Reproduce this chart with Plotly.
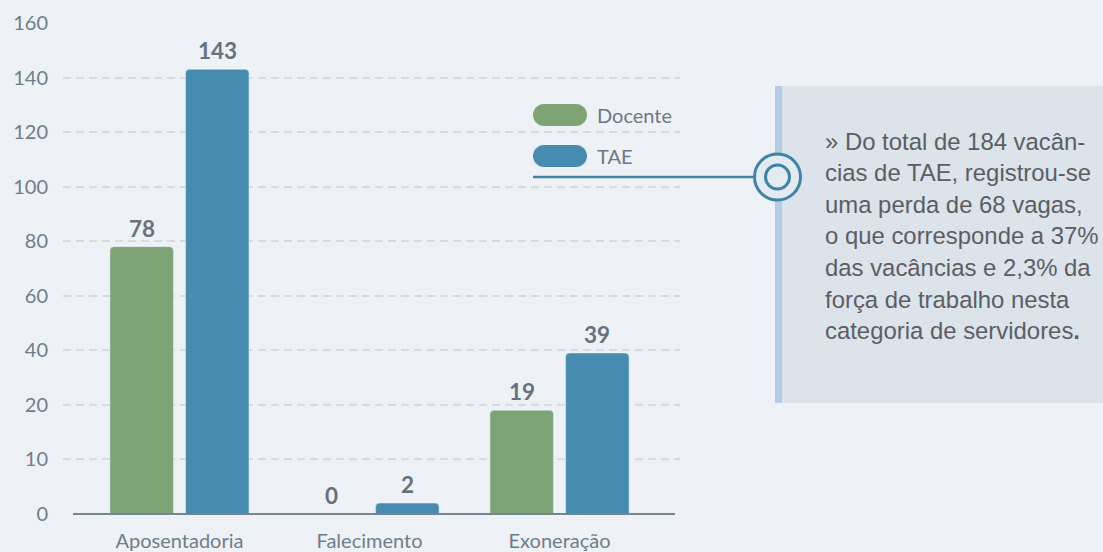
import numpy as np
import plotly.graph_objects as go

# data
categories = ["Aposentadoria", "Falecimento", "Exoneração"]
docente = [78, 0, 19]
tae = [143, 2, 39]
y_ticks = [0, 10, 20, 40, 60, 80, 100, 120, 140, 160]
note_lines = [
    "» Do total de 184 vacân-",
    "cias de TAE, registrou-se",
    "uma perda de 68 vagas,",
    "o que corresponde a 37%",
    "das vacâncias e 2,3% da",
    "força de trabalho nesta",
    "categoria de servidores<b>.</b>",
]

GREEN = "#7ea475"
BLUE = "#468cb0"
BG = "#eef2f6"

# axis is not linear: 0-10-20 then steps of 20, all ticks equally spaced
tick_pos = list(range(len(y_ticks)))


def ypos(v):
    return float(np.interp(v, y_ticks, tick_pos))


W, H = 1103, 552
L, R, T, B = 63, 423, 23, 38
PW, PH = W - L - R, H - T - B


def px(x):
    return (x - L) / PW


def py(y):
    return (H - B - y) / PH


def pill(x0, x1, yc, h):
    r = h / 2
    k = 0.5523 * r
    pts = (
        f"M{px(x0 + r)},{py(yc - r)} L{px(x1 - r)},{py(yc - r)} "
        f"C{px(x1 - r + k)},{py(yc - r)} {px(x1)},{py(yc - k)} {px(x1)},{py(yc)} "
        f"C{px(x1)},{py(yc + k)} {px(x1 - r + k)},{py(yc + r)} {px(x1 - r)},{py(yc + r)} "
        f"L{px(x0 + r)},{py(yc + r)} "
        f"C{px(x0 + r - k)},{py(yc + r)} {px(x0)},{py(yc + k)} {px(x0)},{py(yc)} "
        f"C{px(x0)},{py(yc - k)} {px(x0 + r - k)},{py(yc - r)} {px(x0 + r)},{py(yc - r)} Z"
    )
    return pts


x_idx = list(range(len(categories)))
bar_w = 0.334
off_doc, off_tae = -0.366, 0.032

fig = go.Figure()
fig.add_trace(go.Bar(x=x_idx, y=[ypos(v) for v in docente], name="Docente",
                     marker_color=GREEN, width=bar_w, offset=off_doc))
fig.add_trace(go.Bar(x=x_idx, y=[ypos(v) for v in tae], name="TAE",
                     marker_color=BLUE, width=bar_w, offset=off_tae))

annotations = []
for i in x_idx:
    for vals, off in ((docente, off_doc), (tae, off_tae)):
        annotations.append(dict(
            x=i + off + bar_w / 2, y=ypos(vals[i]), xref="x", yref="y",
            text=f"<b>{vals[i]}</b>", showarrow=False, yanchor="bottom", yshift=3,
            font=dict(family="Lato", size=22.5, color="#66727d")))

# legend
for name, yc in (("Docente", 115), ("TAE", 156)):
    annotations.append(dict(x=px(595), y=py(yc), xref="paper", yref="paper",
                            text=name, showarrow=False, xanchor="left", yanchor="middle",
                            font=dict(family="Lato", size=20, color="#6b7885")))

# note box text
for j, line in enumerate(note_lines):
    annotations.append(dict(x=px(823), y=py(141 + j * 31.6), xref="paper", yref="paper",
                            text=line, showarrow=False, xanchor="left", yanchor="middle",
                            font=dict(family="Liberation Sans", size=23.9, color="#5b5f64")))

shapes = [
    # x axis baseline
    dict(type="line", xref="paper", yref="paper", x0=px(73), x1=px(675), y0=0, y1=0,
         line=dict(color="#76858f", width=2)),
    # legend pills
    dict(type="path", xref="paper", yref="paper", path=pill(533, 587, 115, 22),
         fillcolor=GREEN, line=dict(width=0)),
    dict(type="path", xref="paper", yref="paper", path=pill(533, 587, 156, 22),
         fillcolor=BLUE, line=dict(width=0)),
    # connector line
    dict(type="line", xref="paper", yref="paper", x0=px(533), x1=px(755), y0=py(177), y1=py(177),
         line=dict(color="#3f84a6", width=2.5)),
    # note box
    dict(type="rect", xref="paper", yref="paper", x0=px(775), x1=px(1110), y0=py(86), y1=py(403),
         fillcolor="#dce3ea", line=dict(width=0)),
    dict(type="rect", xref="paper", yref="paper", x0=px(775), x1=px(782), y0=py(86), y1=py(403),
         fillcolor="#b3cde9", line=dict(width=0)),
    # circle marker
    dict(type="circle", xref="paper", yref="paper", x0=px(777.5 - 23), x1=px(777.5 + 23),
         y0=py(177 + 23), y1=py(177 - 23), fillcolor="#e3ebf1",
         line=dict(color="#3f84a6", width=3)),
    dict(type="circle", xref="paper", yref="paper", x0=px(777.5 - 12), x1=px(777.5 + 12),
         y0=py(177 + 12), y1=py(177 - 12), fillcolor="#e3ebf1",
         line=dict(color="#3f84a6", width=3)),
]

fig.update_layout(
    width=W, height=H,
    margin=dict(l=L, r=R, t=T, b=B),
    paper_bgcolor=BG, plot_bgcolor=BG,
    showlegend=False,
    barcornerradius=4,
    annotations=annotations,
    shapes=shapes,
    xaxis=dict(range=[-0.613, 2.634], tickvals=x_idx, ticktext=categories,
               showgrid=False, zeroline=False, showline=False, ticks="",
               ticklabelstandoff=13, automargin=False,
               tickfont=dict(family="Lato", size=20, color="#6e7d8a")),
    yaxis=dict(range=[0, len(y_ticks) - 1], tickvals=tick_pos, ticktext=[str(v) for v in y_ticks],
               showgrid=True, gridcolor="#d6dce2", gridwidth=2, griddash="8px,5px",
               zeroline=False, showline=False, ticks="", ticklabelstandoff=14,
               automargin=False,
               tickfont=dict(family="Lato", size=20, color="#6e7d8a")),
)

# drop the default page margin so the chart sits at the window origin
fig.write_html("out.html", config={"displayModeBar": False},
               post_script="document.body.style.margin='0';")
